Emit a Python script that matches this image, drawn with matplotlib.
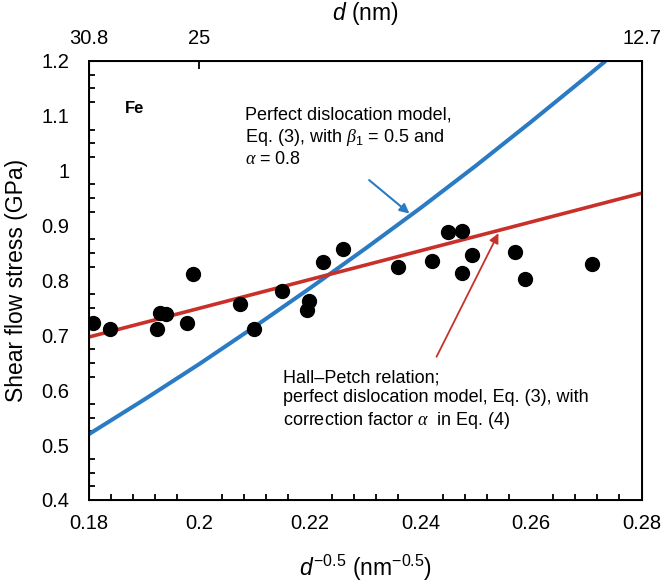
import numpy as np
import matplotlib
matplotlib.use("Agg")
import matplotlib.pyplot as plt

plt.rcParams['font.family'] = ['Liberation Sans', 'DejaVu Sans']
plt.rcParams['mathtext.fontset'] = 'custom'
plt.rcParams['mathtext.rm'] = 'Liberation Sans'
plt.rcParams['mathtext.it'] = 'Liberation Sans:italic'
plt.rcParams['mathtext.sf'] = 'Liberation Serif:italic'

# measured data (d^-0.5, shear flow stress)
x_data = [0.1808, 0.1838, 0.1924, 0.1929, 0.1939, 0.1978, 0.1989, 0.2074,
          0.2099, 0.2149, 0.2199, 0.2194, 0.2224, 0.2259, 0.2360, 0.2420,
          0.2450, 0.2475, 0.2494, 0.2475, 0.2571, 0.2590, 0.2710]
y_data = [0.723, 0.712, 0.712, 0.740, 0.739, 0.723, 0.812, 0.757,
          0.712, 0.780, 0.763, 0.746, 0.834, 0.857, 0.825, 0.836,
          0.889, 0.890, 0.846, 0.813, 0.851, 0.802, 0.830]

# perfect dislocation model curve
x_pd = [0.18, 0.19, 0.20, 0.21, 0.22, 0.23, 0.24, 0.25, 0.26, 0.27, 0.2735]
y_pd = [0.52, 0.583, 0.648, 0.716, 0.786, 0.858, 0.932, 1.009, 1.089, 1.171, 1.20]

# Hall-Petch line
x_hp = [0.18, 0.28]
y_hp = [0.697, 0.959]

# top axis: grain size d (nm)
top_ticks = [0.18, 0.2, 0.28]
top_labels = ['30.8', '25', '12.7']

fig = plt.figure(figsize=(6.65, 5.83), dpi=100)
ax = fig.add_axes([0.1338, 0.1424, 0.8309, 0.753])

ax.plot(x_pd, y_pd, color='#2a7bc4', lw=2.9, solid_capstyle='butt', zorder=2)
ax.plot(x_hp, y_hp, color='#c9302a', lw=2.6, solid_capstyle='butt', zorder=2)
ax.scatter(x_data, y_data, s=100, color='black', zorder=3)

ax.set_xlim(0.18, 0.28)
ax.set_ylim(0.4, 1.2)
ax.set_xticks([0.18, 0.2, 0.22, 0.24, 0.26, 0.28])
ax.set_xticklabels(['0.18', '0.2', '0.22', '0.24', '0.26', '0.28'])
ax.set_yticks(np.arange(0.4, 1.21, 0.1))
ax.set_yticklabels(['0.4', '0.5', '0.6', '0.7', '0.8', '0.9', '1', '1.1', '1.2'])
ax.set_xticks(np.arange(0.18, 0.2801, 0.004), minor=True)
ax.set_yticks(np.arange(0.4, 1.2001, 0.025), minor=True)
ax.tick_params(which='both', direction='in', width=1.3, labelsize=14.5)
ax.tick_params(which='major', length=0, pad=10)
ax.tick_params(which='minor', length=4)
ax.tick_params(axis='y', which='major', pad=14)
for sp in ax.spines.values():
    sp.set_linewidth(1.4)

ax.set_xlabel(r'$\it{d}^{-0.5}$ (nm$^{-0.5}$)', fontsize=16.5, labelpad=14)
ax.set_ylabel('Shear flow stress (GPa)', fontsize=16.5, labelpad=10)

top = ax.twiny()
top.set_xlim(ax.get_xlim())
top.set_xticks(top_ticks)
top.set_xticklabels(top_labels)
top.tick_params(direction='in', length=6, width=1.3, labelsize=14.5, pad=9)
top.set_xlabel(r'$\it{d}$ (nm)', fontsize=16.5, labelpad=7)

ax.text(0.1883, 1.1125, 'Fe', fontsize=12, fontweight='bold',
        ha='center', va='center')

ax.text(0.2082, 1.061,
        'Perfect dislocation model,\n'
        r'Eq. (3), with $\mathsf{\beta}_1$ = 0.5 and' '\n'
        r'$\mathsf{\alpha}$ = 0.8',
        fontsize=13, va='center', linespacing=1.2)
ax.text(0.2151, 0.582,
        'Hall\u2013Petch relation;\n'
        'perfect dislocation model, Eq. (3), with\n'
        r'correction factor $\mathsf{\alpha}$  in Eq. (4)',
        fontsize=13, va='center', linespacing=1.25)

ax.annotate('', xy=(0.2380, 0.922), xytext=(0.2307, 0.983),
            arrowprops=dict(arrowstyle='-|>', color='#2a7bc4', lw=1.5,
                            mutation_scale=14, shrinkA=0, shrinkB=0))
ax.annotate('', xy=(0.2541, 0.886), xytext=(0.2429, 0.661),
            arrowprops=dict(arrowstyle='-|>', color='#c9302a', lw=1.3,
                            mutation_scale=14, shrinkA=0, shrinkB=0))

fig.savefig('out.png', dpi=100)
